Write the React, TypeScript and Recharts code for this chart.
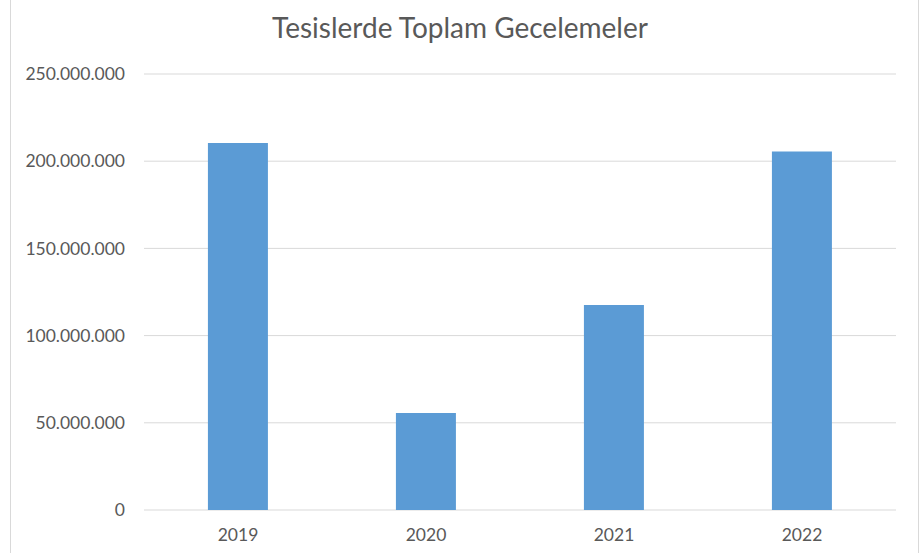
import { BarChart, Bar, XAxis, YAxis, CartesianGrid } from 'recharts'

const years = ['2019', '2020', '2021', '2022']
const overnights = [210400000, 55600000, 117500000, 205500000]
const yTicks = [0, 50000000, 100000000, 150000000, 200000000, 250000000]

const data = years.map((year, i) => ({ year, value: overnights[i] }))

const formatTick = (v: number) => String(v).replace(/\B(?=(\d{3})+(?!\d))/g, '.')

const font = 'Lato, "Open Sans", sans-serif'
const textColor = '#595959'

export default function App() {
  return (
    <div style={{ position: 'absolute', left: 0, top: 0, width: 920, height: 553, background: '#fff', fontFamily: font }}>
      <svg width={920} height={553} style={{ position: 'absolute', left: 0, top: 0 }}>
        <line x1={10.5} y1={0} x2={10.5} y2={553} stroke="#d9d9d9" />
        <line x1={918.5} y1={0} x2={918.5} y2={553} stroke="#d9d9d9" />
        <text x={460} y={38} textAnchor="middle" fontSize={28} fill={textColor} fontFamily={font}>
          Tesislerde Toplam Gecelemeler
        </text>
      </svg>
      <div style={{ position: 'absolute', left: 0, top: 0 }}>
        <BarChart
          width={920}
          height={553}
          data={data}
          margin={{ top: 74, right: 24, left: 0, bottom: 13 }}
          barCategoryGap="34%"
        >
          <CartesianGrid horizontal vertical={false} stroke="#d9d9d9" />
          <XAxis
            dataKey="year"
            axisLine={false}
            tickLine={false}
            tickSize={0}
            tickMargin={19}
            tick={{ fill: textColor, fontSize: 17.5, fontFamily: font }}
          />
          <YAxis
            width={144}
            domain={[0, 250000000]}
            ticks={yTicks}
            axisLine={false}
            tickLine={false}
            tickSize={0}
            tickMargin={19}
            tickFormatter={formatTick}
            tick={{ fill: textColor, fontSize: 17.5, fontFamily: font }}
          />
          <Bar dataKey="value" fill="#5b9bd5" isAnimationActive={false} />
        </BarChart>
      </div>
    </div>
  )
}
